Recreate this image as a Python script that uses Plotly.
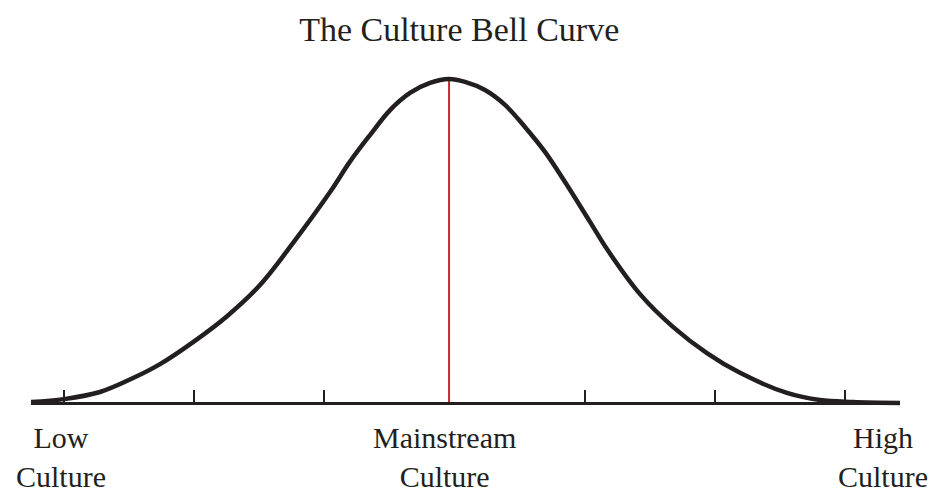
import plotly.graph_objects as go

# curve (x in std-dev units, y relative to peak)
curve_x = [-3.253, -2.999, -2.723, -2.469, -2.262, -2.008, -1.747, -1.494, -1.240,
           -0.956, -0.803, -0.649, -0.495, -0.342, -0.188, -0.042,
           0.081, 0.234, 0.388, 0.541, 0.695, 0.849, 1.041, 1.171, 1.425,
           1.678, 1.939, 2.193, 2.554, 2.807, 3.061, 3.422]
curve_y = [0.003, 0.012, 0.034, 0.077, 0.120, 0.188, 0.268, 0.364, 0.494,
           0.651, 0.745, 0.827, 0.904, 0.957, 0.988, 1.000,
           0.991, 0.966, 0.920, 0.852, 0.775, 0.682, 0.559, 0.475, 0.336,
           0.235, 0.154, 0.093, 0.031, 0.009, 0.003, 0.000]

peak_x = -0.042
peak_y = 1.0

tick_values = [-3, -2, -1, 1, 2, 3]
label_texts = ["Low<br>Culture", "Mainstream<br>Culture", "High<br>Culture"]
label_x = [-3.02, -0.077, 3.29]

title_text = "The Culture Bell Curve"

ink = "#231f20"
serif = "Liberation Serif, Times New Roman, serif"

fig = go.Figure()

# red line marking the mainstream
fig.add_trace(go.Scatter(x=[peak_x, peak_x], y=[0, peak_y], mode="lines",
                         line=dict(color="#c62d3a", width=2),
                         hoverinfo="skip", showlegend=False))

fig.add_trace(go.Scatter(x=curve_x, y=curve_y, mode="lines",
                         line=dict(color=ink, width=4.5, shape="spline", smoothing=1.0),
                         hoverinfo="skip", showlegend=False))

for text, lx in zip(label_texts, label_x):
    fig.add_annotation(x=lx, xref="x", y=0.003, yref="paper", yanchor="top",
                       text=text, showarrow=False, align="center",
                       font=dict(family=serif, size=30, color=ink))

fig.update_layout(
    width=941, height=489,
    margin=dict(l=31, r=41, t=60, b=69),
    paper_bgcolor="white", plot_bgcolor="white",
    title=dict(text=title_text, x=0.488, xanchor="center", xref="container",
               y=0.964, yanchor="top", yref="container",
               font=dict(family=serif, size=34, color=ink)),
    showlegend=False,
)

fig.update_xaxes(range=[-3.253, 3.422], anchor="free", position=(420 - 403) / 360,
                 showline=True, linecolor=ink, linewidth=2.5,
                 ticks="inside", tickvals=tick_values, ticklen=12, tickwidth=2, tickcolor=ink,
                 showticklabels=False, showgrid=False, zeroline=False, fixedrange=True)
fig.update_yaxes(range=[-17 / 324, 343 / 324], visible=False, showgrid=False,
                 zeroline=False, fixedrange=True)

# page body has a default 8px margin; drop it so the figure sits at the corner
fig.write_html("out.html", config={"displayModeBar": False},
               post_script="document.body.style.margin='0';")
